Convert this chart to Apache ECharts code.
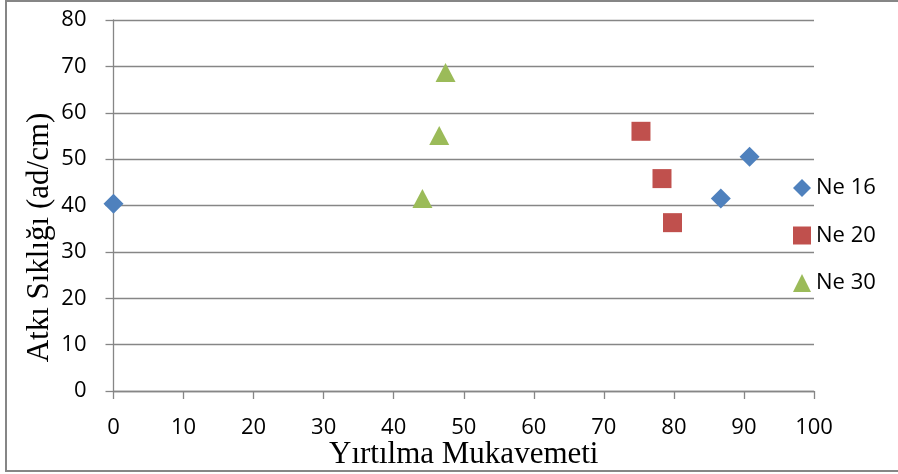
<!DOCTYPE html>
<html>
<head>
<meta charset="utf-8">
<script src="https://cdn.jsdelivr.net/npm/echarts@6/dist/echarts.min.js"></script>
<style>
  html, body { margin: 0; padding: 0; background: #fff; }
  #chart { width: 898px; height: 474px; }
</style>
</head>
<body>
<div id="chart"></div>
<script>
  // values: [Yırtılma Mukavemeti, Atkı Sıklığı]
  const ne16 = [[0, 40.4], [86.7, 41.5], [90.8, 50.5]];
  const ne20 = [[75.3, 56.0], [78.3, 45.8], [79.8, 36.3]];
  const ne30 = [[44.1, 41.5], [46.5, 55.1], [47.4, 68.7]];
  const seriesNames = ['Ne 16', 'Ne 20', 'Ne 30'];

  const gray = '#868686';
  const tickFont = 'Open Sans';
  const titleFont = 'Liberation Serif';

  const chart = echarts.init(document.getElementById('chart'), null, {renderer: 'canvas'});

  const option = {
    backgroundColor: '#fff',
    animation: false,
    graphic: [{
      type: 'rect',
      shape: {x: 6, y: 1, width: 900, height: 470},
      style: {fill: 'none', stroke: gray, lineWidth: 2}
    }],
    legend: {
      orient: 'vertical',
      left: 788,
      top: 172,
      itemWidth: 18,
      itemHeight: 18,
      itemGap: 25.5,
      itemTextGap: 5,
      data: seriesNames,
      textStyle: {fontFamily: tickFont, fontSize: 22, lineHeight: 22, color: '#000'}
    },
    grid: {left: 113.5, right: 84, top: 20, bottom: 83, containLabel: false, outerBoundsMode: 'none'},
    xAxis: {
      type: 'value',
      min: 0,
      max: 100,
      interval: 10,
      name: 'Yırtılma Mukavemeti',
      nameLocation: 'middle',
      nameGap: 48,
      nameMoveOverlap: false,
      nameTextStyle: {fontFamily: titleFont, fontSize: 31, color: '#000'},
      axisLine: {show: true, lineStyle: {color: gray, width: 1.3}},
      axisTick: {show: true, length: 8, lineStyle: {color: gray, width: 1.3}},
      axisLabel: {fontFamily: tickFont, fontSize: 22, color: '#000', margin: 26},
      splitLine: {show: false}
    },
    yAxis: {
      type: 'value',
      min: 0,
      max: 80,
      interval: 10,
      name: 'Atkı Sıklığı (ad/cm)',
      nameLocation: 'middle',
      nameGap: 58,
      nameMoveOverlap: false,
      nameTextStyle: {fontFamily: titleFont, fontSize: 31, color: '#000', padding: [0, 64, 0, 0]},
      axisLine: {show: true, lineStyle: {color: gray, width: 1.3}},
      axisTick: {show: true, length: 8, lineStyle: {color: gray, width: 1.3}},
      axisLabel: {fontFamily: tickFont, fontSize: 22, color: '#000', margin: 27},
      splitLine: {show: true, lineStyle: {color: gray, width: 1.3}}
    },
    series: [{
      name: 'Ne 16',
      type: 'scatter',
      symbol: 'diamond',
      symbolSize: 20,
      itemStyle: {color: '#4F81BD', opacity: 1},
      data: ne16
    }, {
      name: 'Ne 20',
      type: 'scatter',
      symbol: 'rect',
      symbolSize: 19,
      itemStyle: {color: '#C0504D', opacity: 1},
      data: ne20
    }, {
      name: 'Ne 30',
      type: 'scatter',
      symbol: 'triangle',
      symbolSize: [20, 19],
      itemStyle: {color: '#9BBB59', opacity: 1},
      data: ne30
    }]
  };

  chart.setOption(option);
</script>
</body>
</html>
